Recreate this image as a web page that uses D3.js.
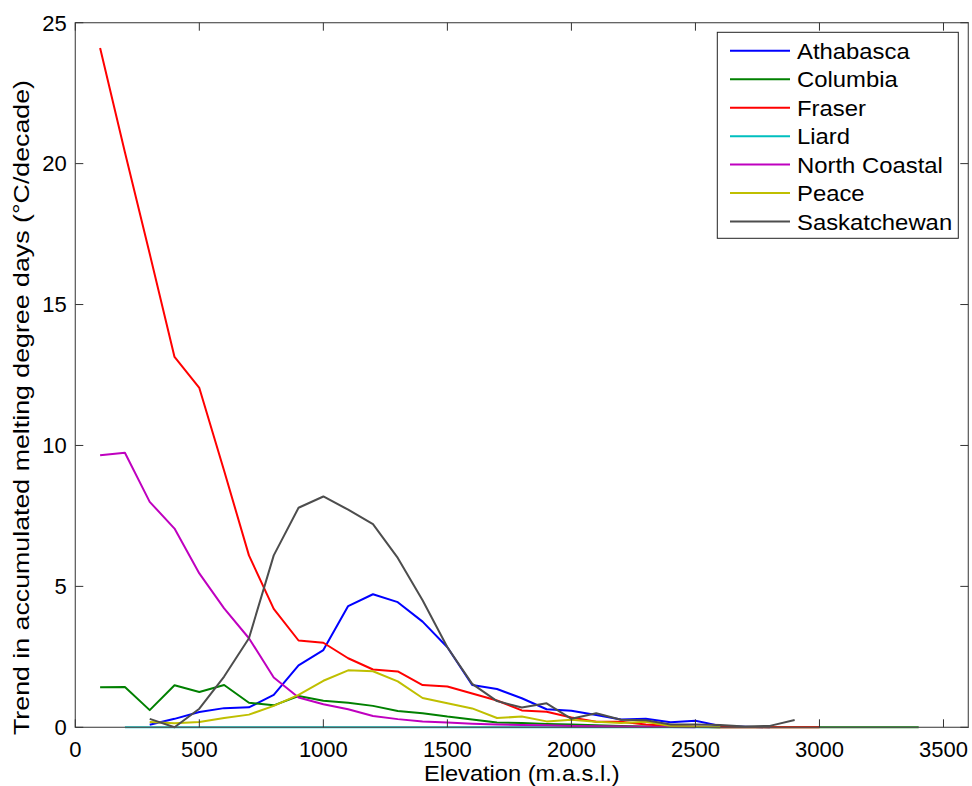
<!DOCTYPE html>
<html>
<head>
<meta charset="utf-8">
<script src="https://cdn.jsdelivr.net/npm/d3@7"></script>
<style>
  body { margin: 0; background: #fff; }
  svg { font-family: "Liberation Sans", Arial, sans-serif; }
</style>
</head>
<body>
<div id="chart"></div>
<script>
// basin names, colours and the trend values (°C/decade per 100 m band)
const basins = ["Athabasca", "Columbia", "Fraser", "Liard", "North Coastal", "Peace", "Saskatchewan"];
const colors = ["#0000ff", "#008000", "#ff0000", "#00bfbf", "#bf00bf", "#bfbf00", "#4d4d4d"];

// first elevation of each series (m), steps are 100 m
const startElev = [300, 100, 100, 200, 100, 300, 300];

const athabasca = [0.09, 0.30, 0.54, 0.68, 0.71, 1.15, 2.20, 2.74, 4.30, 4.72, 4.44, 3.75, 2.84, 1.50, 1.36, 1.03, 0.64, 0.59, 0.44, 0.28, 0.30, 0.18, 0.23, 0.05, 0.02, 0.0];
const columbia = [1.42, 1.43, 0.61, 1.49, 1.25, 1.50, 0.87, 0.78, 1.11, 0.94, 0.87, 0.76, 0.58, 0.50, 0.38, 0.28, 0.17, 0.15, 0.12, 0.10, 0.07, 0.05, 0.03, 0.02, 0.01, 0, 0, 0, 0, 0, 0, 0, 0, 0];
const fraser = [24.1, 20.4, 16.8, 13.14, 12.04, 9.1, 6.1, 4.2, 3.08, 3.0, 2.45, 2.05, 1.98, 1.5, 1.45, 1.2, 0.95, 0.6, 0.55, 0.35, 0.2, 0.2, 0.1, 0.05, 0.02, 0, 0, 0, 0, 0];
const liard = [0, 0, 0, 0, 0, 0, 0, 0, 0, 0, 0, 0, 0, 0, 0, 0, 0, 0, 0, 0, 0, 0, 0, 0, 0];
const northCoastal = [9.65, 9.74, 8.0, 7.05, 5.46, 4.22, 3.16, 1.77, 1.06, 0.82, 0.64, 0.40, 0.29, 0.21, 0.17, 0.13, 0.10, 0.08, 0.07, 0.05, 0.04, 0.03, 0.02, 0.01, 0];
const peace = [0.19, 0.14, 0.19, 0.33, 0.45, 0.76, 1.15, 1.65, 2.02, 1.99, 1.63, 1.04, 0.85, 0.67, 0.33, 0.38, 0.21, 0.27, 0.20, 0.15, 0.20, 0.05, 0.02, 0.0];
const saskatchewan = [0.30, 0.0, 0.66, 1.80, 3.16, 6.10, 7.79, 8.19, 7.72, 7.21, 6.01, 4.51, 2.84, 1.54, 0.93, 0.70, 0.85, 0.30, 0.50, 0.27, 0.25, 0.10, 0.10, 0.08, 0.03, 0.05, 0.26];

const xTicks = [0, 500, 1000, 1500, 2000, 2500, 3000, 3500];
const yTicks = [0, 5, 10, 15, 20, 25];

const values = [athabasca, columbia, fraser, liard, northCoastal, peace, saskatchewan];

let W = 972, H = 786;
let mLeft = 75.3, mRight = 968.3, mTop = 22.7, mBottom = 727.3;

let svg = d3.select("#chart").append("svg")
    .attr("width", W)
    .attr("height", H);

let x = d3.scaleLinear().domain([0, 3600]).range([mLeft, mRight]);
let y = d3.scaleLinear().domain([0, 25]).range([mBottom, mTop]);

// series
let line = d3.line()
    .x(d => x(d[0]))
    .y(d => y(d[1]));

values.forEach(function (vals, i) {
    let pts = vals.map((v, j) => [startElev[i] + 100 * j, v]);
    svg.append("path")
        .datum(pts)
        .attr("fill", "none")
        .attr("stroke", colors[i])
        .attr("stroke-width", 2)
        .attr("stroke-linejoin", "round")
        .attr("d", line);
});

// axes box with inward ticks on all four sides
let axisColor = "#333";
let tickLen = 8;

let ax = svg.append("g");
ax.append("rect")
    .attr("x", mLeft).attr("y", mTop)
    .attr("width", mRight - mLeft).attr("height", mBottom - mTop)
    .attr("fill", "none").attr("stroke", "#555").attr("stroke-width", 1.2);

xTicks.forEach(function (v) {
    ax.append("line").attr("x1", x(v)).attr("x2", x(v)).attr("y1", mBottom).attr("y2", mBottom - tickLen)
        .attr("stroke", axisColor);
    ax.append("line").attr("x1", x(v)).attr("x2", x(v)).attr("y1", mTop).attr("y2", mTop + tickLen)
        .attr("stroke", axisColor);
    ax.append("text")
        .attr("x", x(v)).attr("y", mBottom + 30)
        .attr("text-anchor", "middle")
        .attr("font-size", 22)
        .text(v);
});

yTicks.forEach(function (v) {
    ax.append("line").attr("x1", mLeft).attr("x2", mLeft + tickLen).attr("y1", y(v)).attr("y2", y(v))
        .attr("stroke", axisColor);
    ax.append("line").attr("x1", mRight).attr("x2", mRight - tickLen).attr("y1", y(v)).attr("y2", y(v))
        .attr("stroke", axisColor);
    ax.append("text")
        .attr("x", mLeft - 8.5).attr("y", y(v) + 7.8)
        .attr("text-anchor", "end")
        .attr("font-size", 22)
        .text(v);
});

// axis titles (the original glyphs are a bit wider than Arial, so stretch horizontally)
svg.append("text")
    .attr("transform", "translate(" + ((mLeft + mRight) / 2) + ",781) scale(1.1,1)")
    .attr("text-anchor", "middle")
    .attr("font-size", 21.5)
    .text("Elevation (m.a.s.l.)");

svg.append("text")
    .attr("transform", "translate(28.5,735) rotate(-90)")
    .attr("text-anchor", "start")
    .attr("font-size", 22)
    .attr("textLength", 655)
    .attr("lengthAdjust", "spacingAndGlyphs")
    .text("Trend in accumulated melting degree days (°C/decade)");

// legend
let lg = svg.append("g");
lg.append("rect")
    .attr("x", 717.3).attr("y", 32.3)
    .attr("width", 241).attr("height", 206)
    .attr("fill", "#fff").attr("stroke", "#222").attr("stroke-width", 1);

basins.forEach(function (name, i) {
    let cy = 50.8 + 28.45 * i;
    lg.append("line")
        .attr("x1", 730).attr("x2", 790).attr("y1", cy).attr("y2", cy)
        .attr("stroke", colors[i]).attr("stroke-width", 2);
    lg.append("text")
        .attr("transform", "translate(797," + (cy + 8) + ") scale(1.11,1)")
        .attr("font-size", 21.5)
        .text(name);
});
</script>
</body>
</html>
